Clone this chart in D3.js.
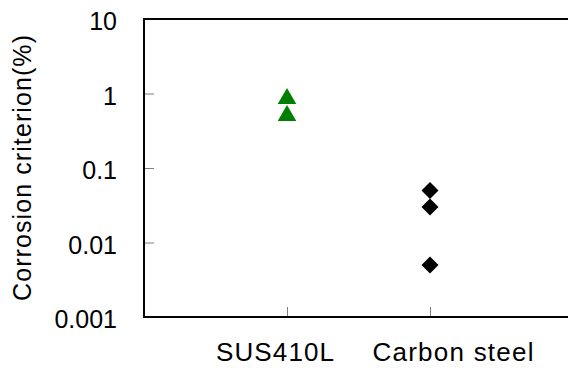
<!DOCTYPE html>
<html>
<head>
<meta charset="utf-8">
<script src="https://cdn.jsdelivr.net/npm/d3@7"></script>
<style>
  body { margin: 0; background: #fff; }
  text { fill: #000; }
</style>
</head>
<body>
<div id="chart"></div>
<script>
var width = 568;
var height = 368;

// data
var categories = ["SUS410L", "Carbon steel"];
var susValues = [0.88, 0.52];
var carbonValues = [0.05, 0.03, 0.005];
var yTicks = [0.001, 0.01, 0.1, 1, 10];
var yTickLabels = ["0.001", "0.01", "0.1", "1", "10"];

var plotLeft = 144, plotTop = 19, plotBottom = 317;

var xScale = d3.scaleLinear().domain([0, 3]).range([plotLeft, 573]);
var yScale = d3.scaleLog().domain([0.001, 10]).range([plotBottom, plotTop]);

var svg = d3.select("#chart")
  .append("svg")
  .attr("width", width)
  .attr("height", height);

// inward ticks (grey)
var yAxis = d3.axisRight(yScale)
  .tickValues(yTicks.slice(1, -1))
  .tickSize(10)
  .tickFormat("");
svg.append("g")
  .attr("transform", "translate(" + plotLeft + ",0)")
  .call(yAxis)
  .call(g => g.select(".domain").remove())
  .selectAll("line").attr("stroke", "#808080");

var xAxis = d3.axisTop(xScale)
  .tickValues([1, 2])
  .tickSize(10)
  .tickFormat("");
svg.append("g")
  .attr("transform", "translate(0," + plotBottom + ")")
  .call(xAxis)
  .call(g => g.select(".domain").remove())
  .selectAll("line").attr("stroke", "#808080");

// frame
svg.append("path")
  .attr("d", "M" + width + "," + plotTop + "H" + plotLeft + "V" + plotBottom + "H" + width)
  .attr("fill", "none")
  .attr("stroke", "#000")
  .attr("stroke-width", 2);

// y tick labels
svg.append("g")
  .selectAll("text")
  .data(yTicks)
  .enter()
  .append("text")
  .attr("x", 117)
  .attr("y", d => yScale(d) + 2)
  .attr("dy", "0.36em")
  .attr("text-anchor", "end")
  .attr("font-family", "'Liberation Sans', Arial, sans-serif")
  .attr("font-size", "25px")
  .text((d, i) => yTickLabels[i]);

// x labels
var labelShift = [-12, 23];
var labelLength = [118, 161];
svg.append("g")
  .selectAll("text")
  .data(categories)
  .enter()
  .append("text")
  .attr("x", (d, i) => xScale(i + 1) + labelShift[i] - labelLength[i] / 2)
  .attr("y", 361)
  .attr("textLength", (d, i) => labelLength[i])
  .attr("lengthAdjust", "spacing")
  .attr("font-family", "'Liberation Sans', Arial, sans-serif")
  .attr("font-size", "26px")
  .text(d => d);

// axis title
svg.append("text")
  .attr("transform", "translate(31," + ((plotTop + plotBottom) / 2) + ") rotate(-90)")
  .attr("x", -133)
  .attr("textLength", 266)
  .attr("lengthAdjust", "spacing")
  .attr("font-family", "'Liberation Sans', Arial, sans-serif")
  .attr("font-size", "25px")
  .text("Corrosion criterion(%)");

// markers
var tri = d3.symbol().type(d3.symbolTriangle).size(150);
svg.append("g")
  .selectAll("path")
  .data(susValues)
  .enter()
  .append("path")
  .attr("d", tri)
  .attr("transform", d => "translate(" + xScale(1) + "," + (yScale(d) + 1) + ")")
  .attr("fill", "#008000");

var dia = d3.symbol().type(d3.symbolSquare).size(145);
svg.append("g")
  .selectAll("path")
  .data(carbonValues)
  .enter()
  .append("path")
  .attr("d", dia)
  .attr("transform", d => "translate(" + xScale(2) + "," + yScale(d) + ") rotate(45)")
  .attr("fill", "#000");
</script>
</body>
</html>
